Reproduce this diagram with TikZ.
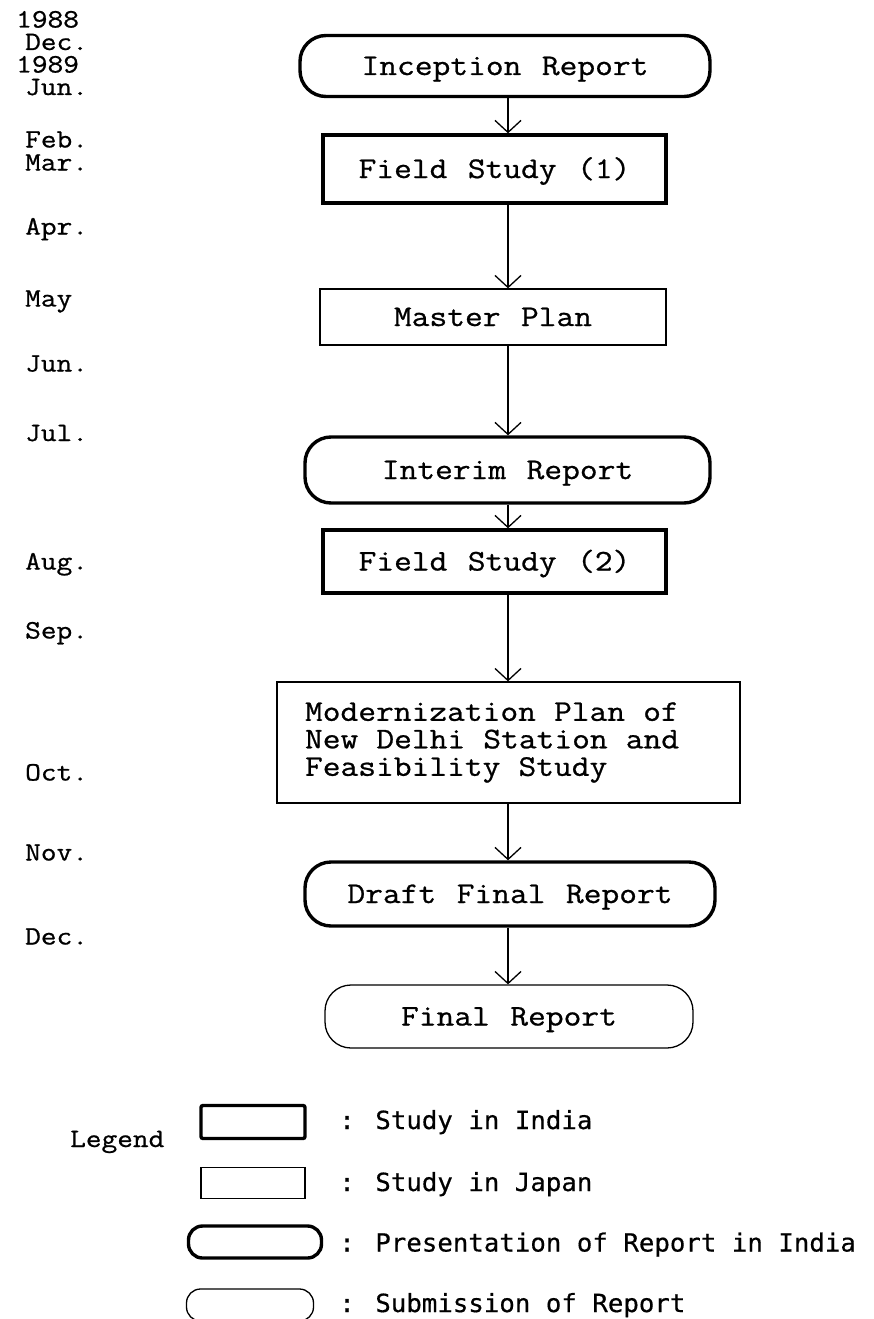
\documentclass[tikz,border=0pt]{standalone}
\usepackage{fontspec}
\setmainfont{Latin Modern Mono}
\newfontfamily\flowfont[FakeBold=0.8, FakeStretch=1.15, WordSpace={1.15,0,0}]{Latin Modern Mono}
\newfontfamily\legfont[FakeBold=0.5, FakeStretch=1.03, WordSpace={1,0,0}]{DejaVu Sans Mono}
\usetikzlibrary{arrows.meta}
% one character cell of the 30pt typewriter face
\newcommand\cellgap{\hspace*{18.1pt}}

\tikzset{
  flowtext/.style={font=\flowfont\fontsize{30}{27.5}\selectfont, inner sep=0pt},
  oneline/.style={text height=18pt, text depth=0pt},
  indiabox/.style={flowtext, oneline, draw, line width=3.4pt, rectangle},
  japanbox/.style={flowtext, draw, line width=1.3pt, rectangle},
  presbox/.style={flowtext, oneline, draw, line width=3.4pt, rounded corners=26pt},
  subbox/.style={flowtext, oneline, draw, line width=1.3pt, rounded corners=26pt},
  month/.style={font=\flowfont\fontsize{26.5}{26.5}\selectfont, anchor=base west, inner sep=0pt},
  legtext/.style={font=\legfont\fontsize{25}{25}\selectfont, anchor=base west, inner sep=0pt},
  flow/.style={line width=1.3pt, -{Straight Barb[length=12pt,width=26pt,line width=1.3pt]}},
}

\begin{document}
\begin{tikzpicture}[x=1pt,y=-1pt]
\useasboundingbox (0,0) rectangle (874,1319);

% time axis
\node[month] (y88) at (16,27.5) {1988};
\node[month] (m1) at (25,50) {Dec.};
\node[month] (y89) at (16,72.5) {1989};
\node[month] (m2) at (25,95) {Jun.};
\node[month] (m3) at (25,147.5) {Feb.};
\node[month] (m4) at (25,170.5) {Mar.};
\node[month] (m5) at (25,234.5) {Apr.};
\node[month] (m6) at (25,306.5) {May};
\node[month] (m7) at (25,371.5) {Jun.};
\node[month] (m8) at (25,441) {Jul.};
\node[month] (m9) at (25,569.5) {Aug.};
\node[month] (m10) at (25,638.5) {Sep.};
\node[month] (m11) at (25,780.5) {Oct.};
\node[month] (m12) at (25,860.5) {Nov.};
\node[month] (m13) at (25,944.5) {Dec.};

% flow of the study
\coordinate (ax) at (508,0);
\node[presbox, minimum width=410pt, minimum height=61pt] (inc) at (505,66) {Inception Report};
\node[indiabox, minimum width=343pt, minimum height=68pt] (fs1) at (494.5,169) {Field Study (1)};
\node[japanbox, oneline, minimum width=346pt, minimum height=56pt] (mp) at (493,317) {Master Plan};
\node[presbox, minimum width=405pt, minimum height=66pt] (ir) at (507.5,470) {Interim Report};
\node[indiabox, minimum width=343pt, minimum height=63pt] (fs2) at (494.5,561.5) {Field Study (2)};
\node[japanbox, minimum width=463pt, minimum height=121pt, text width=407pt, align=left,
      inner xsep=28pt] (mod) at (508.5,742.5)
      {Modernization\cellgap{}Plan\cellgap{}of\\New\cellgap{}Delhi\cellgap{}Station\cellgap{}and\\Feasibility\cellgap{}Study};
\node[presbox, minimum width=410pt, minimum height=64pt] (dfr) at (510,894) {Draft Final Report};
\node[subbox, minimum width=368pt, minimum height=63pt] (fr) at (509,1016.5) {Final Report};

\draw[flow] (inc.south -| ax) -- (fs1.north -| ax);
\draw[flow] (fs1.south -| ax) -- (mp.north -| ax);
\draw[flow] (mp.south -| ax) -- (ir.north -| ax);
\draw[flow] (ir.south -| ax) -- (fs2.north -| ax);
\draw[flow] (fs2.south -| ax) -- (mod.north -| ax);
\draw[flow] (mod.south -| ax) -- (dfr.north -| ax);
\draw[flow] (dfr.south -| ax) -- (fr.north -| ax);

% legend
\node[month] (leg) at (70,1147) {Legend};
\node[draw, line width=3.4pt, rounded corners=2pt, minimum width=104pt, minimum height=33pt, inner sep=0pt] (l1) at (253,1122) {};
\node[draw, line width=1.3pt, minimum width=104pt, minimum height=31pt, inner sep=0pt] (l2) at (253,1183) {};
\node[draw, line width=3.4pt, rounded corners=14pt, minimum width=133pt, minimum height=32pt, inner sep=0pt] (l3) at (255,1242) {};
\node[draw, line width=1.3pt, rounded corners=14pt, minimum width=127pt, minimum height=32pt, inner sep=0pt] (l4) at (250,1305) {};
\node[legtext] (t1) at (339,1129) {: Study in India};
\node[legtext] (t2) at (339,1191) {: Study in Japan};
\node[legtext] (t3) at (339,1251.5) {: Presentation of Report in India};
\node[legtext] (t4) at (339,1312) {: Submission of Report};
\end{tikzpicture}
\end{document}
